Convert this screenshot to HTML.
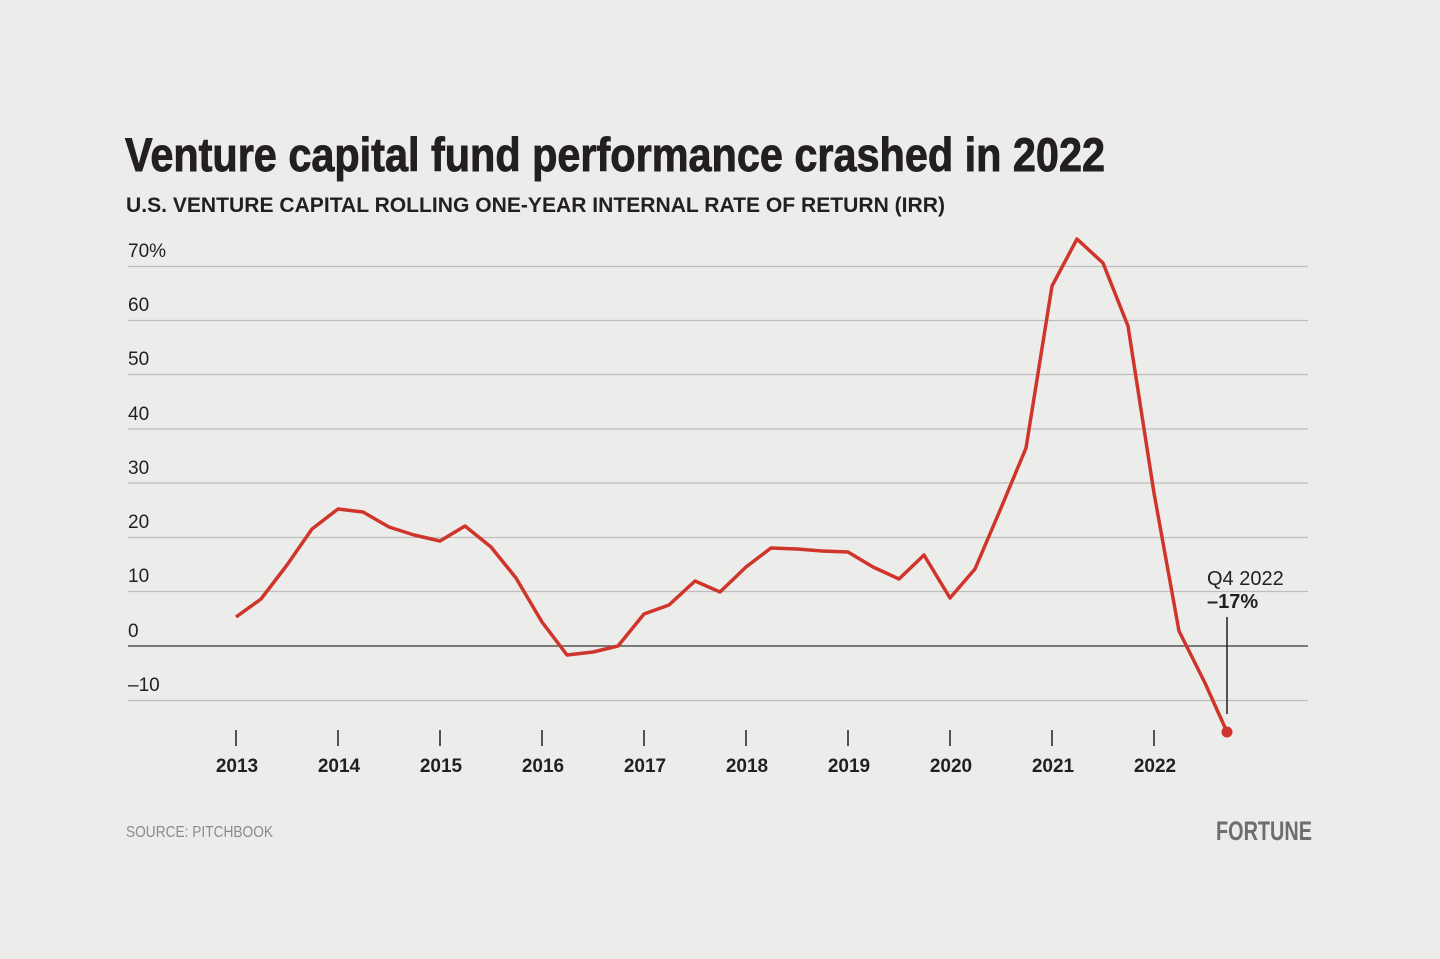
<!DOCTYPE html>
<html><head><meta charset="utf-8"><style>
html,body{margin:0;padding:0;background:#ecedeb;}
svg{display:block}
text{font-family:"Liberation Sans",sans-serif;}
</style></head><body>
<svg width="1440" height="959" viewBox="0 0 1440 959">
<rect width="1440" height="959" fill="#ecedeb"/>
<text x="125" y="171" font-size="47" font-weight="bold" fill="#231f20" stroke="#231f20" stroke-width="0.9" textLength="980" lengthAdjust="spacingAndGlyphs">Venture capital fund performance crashed in 2022</text>
<text x="126" y="212" font-size="21" font-weight="bold" fill="#231f20" textLength="819" lengthAdjust="spacingAndGlyphs">U.S. VENTURE CAPITAL ROLLING ONE-YEAR INTERNAL RATE OF RETURN (IRR)</text>
<g stroke="#bcbdbc" stroke-width="1.2">
<line x1="128" x2="1308" y1="266.5" y2="266.5"/>
<line x1="128" x2="1308" y1="320.5" y2="320.5"/>
<line x1="128" x2="1308" y1="374.5" y2="374.5"/>
<line x1="128" x2="1308" y1="429" y2="429"/>
<line x1="128" x2="1308" y1="483" y2="483"/>
<line x1="128" x2="1308" y1="537.5" y2="537.5"/>
<line x1="128" x2="1308" y1="591.5" y2="591.5"/>
<line x1="128" x2="1308" y1="700.5" y2="700.5"/>
</g>
<line x1="128" x2="1308" y1="646" y2="646" stroke="#555" stroke-width="1.5"/>
<g font-size="19" fill="#231f20">
<text x="128" y="257">70%</text><text x="128" y="311">60</text><text x="128" y="365">50</text>
<text x="128" y="420">40</text><text x="128" y="474">30</text><text x="128" y="528">20</text>
<text x="128" y="582">10</text><text x="128" y="637">0</text><text x="128" y="691">–10</text>
</g>
<g stroke="#231f20" stroke-width="1.5">
<line x1="236" x2="236" y1="730" y2="746"/><line x1="338" x2="338" y1="730" y2="746"/>
<line x1="440" x2="440" y1="730" y2="746"/><line x1="542" x2="542" y1="730" y2="746"/>
<line x1="644" x2="644" y1="730" y2="746"/><line x1="746" x2="746" y1="730" y2="746"/>
<line x1="848" x2="848" y1="730" y2="746"/><line x1="950" x2="950" y1="730" y2="746"/>
<line x1="1052" x2="1052" y1="730" y2="746"/><line x1="1154" x2="1154" y1="730" y2="746"/>
</g>
<g font-size="19" font-weight="bold" fill="#231f20" text-anchor="middle">
<text x="237" y="772">2013</text><text x="339" y="772">2014</text><text x="441" y="772">2015</text>
<text x="543" y="772">2016</text><text x="645" y="772">2017</text><text x="747" y="772">2018</text>
<text x="849" y="772">2019</text><text x="951" y="772">2020</text><text x="1053" y="772">2021</text>
<text x="1155" y="772">2022</text>
</g>
<line x1="1227" x2="1227" y1="617" y2="714" stroke="#231f20" stroke-width="1.5"/>
<polyline fill="none" stroke="#d0352b" stroke-width="3.5" stroke-linejoin="round"
points="236,617 261,599 287,565 312,529 338,509 363,512 389,527 414,535 440,541 465,526 491,547 516,578 542,622 567,655 593,652 618,646 644,614 669,605 695,581 720,592 746,567 771,548 797,549 822,551 848,552 873,567 899,579 924,555 950,598 975,569 1001,508 1026,448 1052,286 1077,239 1103,263 1128,326 1154,493 1179,631 1205,683 1227,732"/>
<circle cx="1227" cy="732" r="5.5" fill="#d0352b"/>
<text x="1207" y="585" font-size="20" fill="#231f20">Q4 2022</text>
<text x="1207" y="608" font-size="20" font-weight="bold" fill="#231f20">–17%</text>
<text x="126" y="837" font-size="16" fill="#8a8b8a" textLength="147" lengthAdjust="spacingAndGlyphs">SOURCE: PITCHBOOK</text>
<text x="1216" y="840" font-size="27" font-weight="bold" fill="#6d6e6d" textLength="96" lengthAdjust="spacingAndGlyphs">FORTUNE</text>
</svg>
</body></html>
